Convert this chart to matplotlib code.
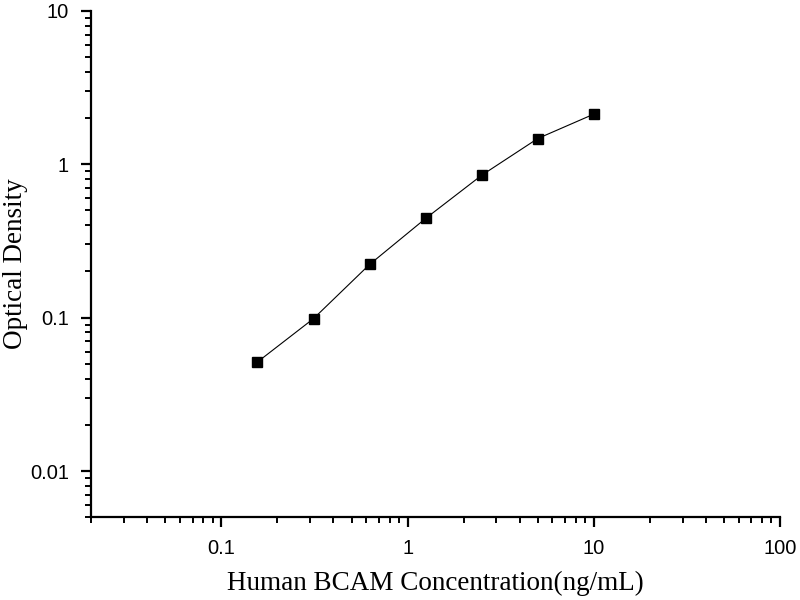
import matplotlib
matplotlib.use("Agg")
import matplotlib.pyplot as plt
from matplotlib.ticker import LogLocator, FixedLocator, FixedFormatter, NullFormatter

conc = [0.156, 0.3125, 0.625, 1.25, 2.5, 5, 10]
od = [0.0513, 0.0985, 0.222, 0.443, 0.847, 1.47, 2.12]
xticks = [0.1, 1, 10, 100]
xticklabels = ["0.1", "1", "10", "100"]
yticks = [0.01, 0.1, 1, 10]
yticklabels = ["0.01", "0.1", "1", "10"]

plt.rcParams["font.family"] = ["Liberation Sans", "DejaVu Sans"]

fig = plt.figure(figsize=(8, 6), dpi=100)
ax = fig.add_axes([0.114, 0.138, 0.861, 0.844])
ax.plot(conc, od, color="black", lw=0.8, marker="s", markersize=7,
        markerfacecolor="black", markeredgecolor="black")
ax.set_xscale("log")
ax.set_yscale("log")
ax.set_xlim(0.02, 100)
ax.set_ylim(0.005, 10)

ax.xaxis.set_major_locator(FixedLocator(xticks))
ax.xaxis.set_major_formatter(FixedFormatter(xticklabels))
ax.yaxis.set_major_locator(FixedLocator(yticks))
ax.yaxis.set_major_formatter(FixedFormatter(yticklabels))
ax.xaxis.set_minor_locator(LogLocator(base=10, subs=range(2, 10), numticks=20))
ax.yaxis.set_minor_locator(LogLocator(base=10, subs=range(2, 10), numticks=20))
ax.xaxis.set_minor_formatter(NullFormatter())
ax.yaxis.set_minor_formatter(NullFormatter())

for s in ["top", "right"]:
    ax.spines[s].set_visible(False)
for s in ["left", "bottom"]:
    ax.spines[s].set_linewidth(1.6)

ax.tick_params(which="major", direction="out", length=7, width=1.6,
               labelsize=14.5, pad=9)
ax.tick_params(which="minor", direction="out", length=4, width=1.4)

ax.set_xlabel("Human BCAM Concentration(ng/mL)", family="Liberation Serif",
              fontsize=19.5, labelpad=9)
ax.set_ylabel("Optical Density", family="Liberation Serif", fontsize=19.5)
ax.yaxis.set_label_coords(-0.092, 0.5)

fig.savefig("out.png", dpi=100)
